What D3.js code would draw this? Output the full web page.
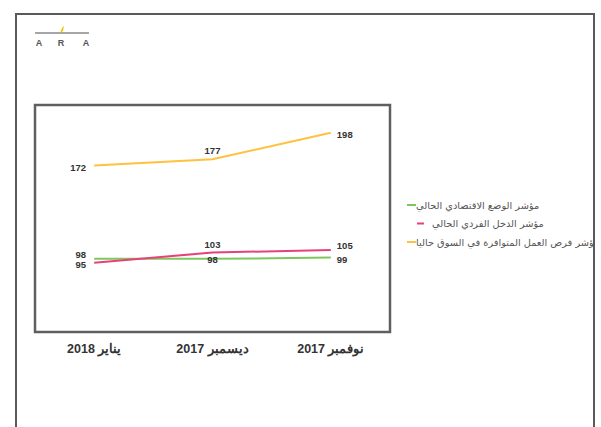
<!DOCTYPE html>
<html>
<head>
<meta charset="utf-8">
<script src="https://cdn.jsdelivr.net/npm/d3@7"></script>
<style>
  body { margin: 0; background: #fff; }
  svg { display: block; }
</style>
</head>
<body>
<script>
// categories (left to right as drawn)
var categories = ["يناير 2018", "ديسمبر 2017", "نوفمبر 2017"];

// series names (legend) and values
var seriesNames = [
  "مؤشر الوضع الاقتصادي الحالي",
  "مؤشر الدخل الفردي الحالي",
  "مؤشر فرص العمل المتوافرة في السوق حاليا"
];
var economicValues = [98, 98, 99];
var incomeValues = [95, 103, 105];
var jobsValues = [172, 177, 198];

var yDomain = [40, 220];

function init() {
  var w = 601, h = 427;
  var colors = ["#7cc85f", "#e8417a", "#ffc13e"];
  var allValues = [economicValues, incomeValues, jobsValues];

  var svg = d3.select("body").append("svg")
    .attr("width", w)
    .attr("height", h);

  // logo top left
  var logo = svg.append("g");
  logo.append("line")
    .attr("x1", 35).attr("x2", 89).attr("y1", 33).attr("y2", 33)
    .attr("stroke", "#888").attr("stroke-width", 1.5);
  logo.append("path")
    .attr("d", "M60,33 L62,28 L64,26 L63,31 Z")
    .attr("fill", "#f5c400");
  logo.selectAll("text")
    .data(["A", "R", "A"])
    .enter()
    .append("text")
    .attr("x", function(d, i) { return [39, 61, 86][i]; })
    .attr("y", 46)
    .attr("text-anchor", "middle")
    .attr("font-family", "Liberation Sans, sans-serif")
    .attr("font-weight", "bold")
    .attr("font-size", "9px")
    .attr("fill", "#555")
    .text(function(d) { return d; });

  // plot area
  var left = 35, right = 390, top = 105, bottom = 332;

  var xScale = d3.scaleBand()
    .domain(categories)
    .range([left, right]);

  var yScale = d3.scaleLinear()
    .domain(yDomain)
    .range([bottom, top]);

  function cx(i) { return xScale(categories[i]) + xScale.bandwidth() / 2; }

  svg.append("rect")
    .attr("x", left).attr("y", top)
    .attr("width", right - left).attr("height", bottom - top)
    .attr("fill", "none")
    .attr("stroke", "#5f5f5f")
    .attr("stroke-width", 2.5);

  // x axis labels
  var xAxis = d3.axisBottom(xScale).tickSize(0).tickPadding(12);
  var gx = svg.append("g")
    .attr("transform", "translate(0," + bottom + ")")
    .call(xAxis);
  gx.select(".domain").remove();
  gx.selectAll("text")
    .attr("font-family", "Liberation Sans, Arial, sans-serif")
    .attr("font-weight", "bold")
    .attr("font-size", "12.5px")
    .attr("fill", "#333")
    .attr("direction", "rtl");

  var line = d3.line()
    .x(function(d, i) { return cx(i); })
    .y(function(d) { return yScale(d); });

  // draw green, then yellow, then pink on top
  [0, 2, 1].forEach(function(s) {
    svg.append("path")
      .datum(allValues[s])
      .attr("d", line)
      .attr("fill", "none")
      .attr("stroke", colors[s])
      .attr("stroke-width", 2);
  });

  // value labels: first point to the left, last to the right, middle above
  allValues.forEach(function(vals, s) {
    svg.selectAll(".lbl" + s)
      .data(vals)
      .enter()
      .append("text")
      .attr("class", "lbl" + s)
      .attr("x", function(d, i) {
        if (i === 0) return cx(i) - 8;
        if (i === vals.length - 1) return cx(i) + 6;
        return cx(i);
      })
      .attr("y", function(d, i) {
        var y = yScale(d);
        if (i === 0) return y + (s === 0 ? -1 : 5);
        if (i === vals.length - 1) return y + (s === 1 ? -1 : 5);
        return s === 0 ? y + 4 : y - 5;
      })
      .attr("text-anchor", function(d, i) {
        if (i === 0) return "end";
        if (i === vals.length - 1) return "start";
        return "middle";
      })
      .attr("font-family", "Liberation Sans, Arial, sans-serif")
      .attr("font-weight", "bold")
      .attr("font-size", "9.5px")
      .attr("fill", "#333")
      .text(function(d) { return d; });
  });

  // legend
  var legend = svg.selectAll(".legend")
    .data(seriesNames)
    .enter()
    .append("g")
    .attr("class", "legend")
    .attr("transform", function(d, i) { return "translate(407," + (205 + i * 18.5) + ")"; });

  legend.append("line")
    .attr("x1", function(d, i) { return i === 1 ? 10 : 0; })
    .attr("x2", function(d, i) { return i === 1 ? 17 : 9; })
    .attr("y1", 0).attr("y2", 0)
    .attr("stroke", function(d, i) { return colors[i]; })
    .attr("stroke-width", 2);

  legend.append("text")
    .attr("x", function(d, i) { return i === 1 ? 25 : 9; })
    .attr("y", 3.5)
    .attr("direction", "rtl")
    .attr("text-anchor", "end")
    .attr("font-family", "DejaVu Sans, sans-serif")
    .attr("font-size", "9.8px")
    .attr("fill", "#555")
    .text(function(d) { return d; });

  // outer frame (no bottom edge visible), drawn last so it clips the legend
  svg.append("rect")
    .attr("x", 595).attr("y", 0).attr("width", 6).attr("height", h)
    .attr("fill", "#fff");
  svg.append("path")
    .attr("d", "M16," + h + "V14H594V" + h)
    .attr("fill", "none")
    .attr("stroke", "#5a5a5a")
    .attr("stroke-width", 2);
}
window.onload = init;
</script>
</body>
</html>
